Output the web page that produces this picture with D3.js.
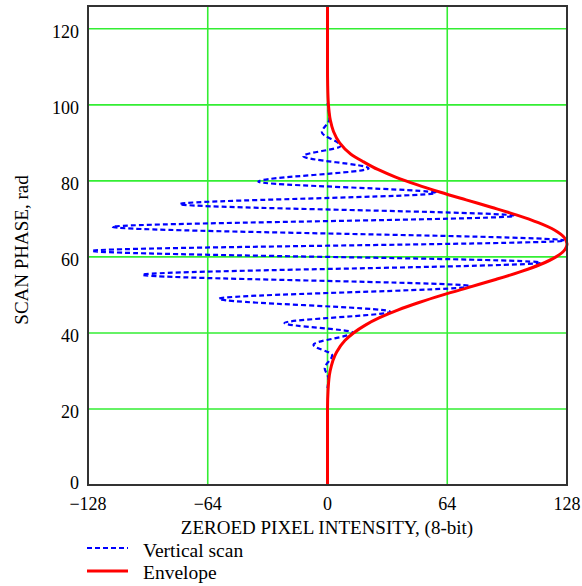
<!DOCTYPE html>
<html>
<head>
<meta charset="utf-8">
<script src="https://cdn.jsdelivr.net/npm/d3@7/dist/d3.min.js"></script>
<style>
  body { margin: 0; background: #fff; }
  text { font-family: "Liberation Serif", "Times New Roman", serif; fill: #000; }
</style>
</head>
<body>
<div class="chart"></div>
<script>
// vertical scan: extrema (phase in rad, intensity)
const scanPhase = [25.5, 28.0, 30.7, 34.1, 36.9, 40.1, 42.6, 45.6, 49.0, 52.3, 55.3, 58.5, 61.6, 64.3, 67.9, 70.8, 73.9, 76.8, 79.8, 83.3, 86.5, 89.2, 92.8, 96.2, 100.5];
const scanValue = [0, 0.5, -1.5, 2.5, -7.5, 13.5, -23, 33.5, -58, 77, -99, 114, -126, 127, -115, 100, -79, 58, -37, 22, -13, 7, -3, 1, 0];

// envelope
const envPhase = [0, 20, 25, 30, 35, 38, 40, 42, 44, 46, 48, 50, 52, 54, 56, 58, 60, 62, 63.4, 65, 67, 69, 71, 73, 75, 77, 79, 81, 83, 85, 87, 90, 93, 96, 100, 105, 110, 126];
const envValue = [0, 0, 0.3, 1.4, 4.9, 9.3, 13.9, 20, 27.8, 37.5, 48.9, 61.7, 75.5, 89.4, 102.5, 113.7, 122.1, 127, 128, 126.7, 121.5, 112.7, 101.3, 88, 74.1, 60.4, 47.7, 36.4, 26.9, 19.3, 12.5, 6.5, 3.2, 1.5, 0.5, 0.1, 0, 0];

const xTicks = [-128, -64, 0, 64, 128];
const yTicks = [0, 20, 40, 60, 80, 100, 120];

const width = 582;
const height = 586;
const plotL = 88, plotR = 567, plotT = 6, plotB = 485;

const svg = d3.select('.chart')
  .append('svg')
  .attr('width', width)
  .attr('height', height);

const x = d3.scaleLinear().domain([-128, 128]).range([plotL, plotR]);
const y = d3.scaleLinear().domain([0, 126]).range([plotB, plotT]);

// grid
svg.append('g')
  .selectAll('line')
  .data(yTicks.filter(d => d > 0))
  .enter()
  .append('line')
  .attr('x1', plotL).attr('x2', plotR)
  .attr('y1', d => y(d)).attr('y2', d => y(d))
  .attr('stroke', '#33ee33')
  .attr('stroke-width', 1.6);

svg.append('g')
  .selectAll('line')
  .data(xTicks.slice(1, -1))
  .enter()
  .append('line')
  .attr('x1', d => x(d)).attr('x2', d => x(d))
  .attr('y1', plotT).attr('y2', plotB)
  .attr('stroke', '#33ee33')
  .attr('stroke-width', 1.6);

// curves
const scan = scanPhase.map((p, i) => ({p: p, v: scanValue[i]}));
const env = envPhase.map((p, i) => ({p: p, v: envValue[i]}));

const line = d3.line()
  .x(d => x(d.v))
  .y(d => y(d.p))
  .curve(d3.curveMonotoneY);

svg.append('path')
  .datum(scan)
  .attr('d', line)
  .attr('fill', 'none')
  .attr('stroke', '#0000ff')
  .attr('stroke-width', 2.2)
  .attr('stroke-dasharray', '5,3');

svg.append('path')
  .datum(env)
  .attr('d', line)
  .attr('fill', 'none')
  .attr('stroke', '#ff0000')
  .attr('stroke-width', 3);

// frame
svg.append('rect')
  .attr('x', plotL).attr('y', plotT)
  .attr('width', plotR - plotL).attr('height', plotB - plotT)
  .attr('fill', 'none')
  .attr('stroke', '#333')
  .attr('stroke-width', 2);

// tick labels
svg.selectAll('text.xtick')
  .data(xTicks)
  .enter()
  .append('text')
  .attr('class', 'xtick')
  .attr('x', d => x(d))
  .attr('y', 510)
  .attr('text-anchor', 'middle')
  .attr('font-size', 18)
  .text(d => d < 0 ? '\u2212' + Math.abs(d) : d);

svg.selectAll('text.ytick')
  .data(yTicks)
  .enter()
  .append('text')
  .attr('class', 'ytick')
  .attr('x', 79)
  .attr('y', d => d === 0 ? y(d) + 4 : y(d) + 9)
  .attr('text-anchor', 'end')
  .attr('font-size', 18)
  .text(d => d);

// axis titles
svg.append('text')
  .attr('x', 327)
  .attr('y', 534)
  .attr('text-anchor', 'middle')
  .attr('font-size', 19)
  .text('ZEROED PIXEL INTENSITY, (8-bit)');

svg.append('text')
  .attr('transform', 'translate(28,250) rotate(-90)')
  .attr('text-anchor', 'middle')
  .attr('font-size', 19)
  .text('SCAN PHASE, rad');

// legend
const legend = [
  {name: 'Vertical scan', color: '#0000ff', dash: '5,3', w: 2.2},
  {name: 'Envelope', color: '#ff0000', dash: null, w: 3}
];

svg.selectAll('line.legend')
  .data(legend)
  .enter()
  .append('line')
  .attr('x1', 87).attr('x2', 128)
  .attr('y1', (d, i) => 548 + i * 23)
  .attr('y2', (d, i) => 548 + i * 23)
  .attr('stroke', d => d.color)
  .attr('stroke-width', d => d.w)
  .attr('stroke-dasharray', d => d.dash);

svg.selectAll('text.legend')
  .data(legend)
  .enter()
  .append('text')
  .attr('class', 'legend')
  .attr('x', 143)
  .attr('y', (d, i) => 557 + i * 22)
  .attr('font-size', 19.5)
  .text(d => d.name);
</script>
</body>
</html>
